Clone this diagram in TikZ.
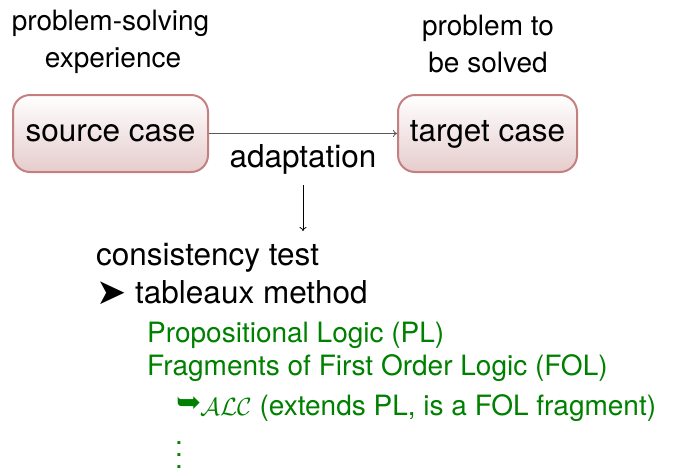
\documentclass[tikz,border=0pt]{standalone}
\usepackage{fontspec}
\setmainfont{TeX Gyre Heros}
\newfontfamily\symfont{DejaVu Sans}
\usetikzlibrary{arrows.meta}
\definecolor{boxline}{RGB}{196,128,128}
\definecolor{boxfill}{RGB}{230,204,204}
\definecolor{logicgreen}{RGB}{0,128,0}

\begin{document}
\begin{tikzpicture}[x=1pt,y=1pt,
  big/.style={font=\fontsize{31.5}{36}\selectfont, inner sep=0pt},
  small/.style={font=\fontsize{28}{32}\selectfont, inner sep=0pt},
  logic/.style={small, text=logicgreen},
  casebox/.style={draw=boxline, line width=2pt, rounded corners=17pt,
    top color=white, bottom color=boxfill, minimum height=77pt,
    inner sep=0pt, text height=22pt, text depth=7pt,
    font=\fontsize{31.5}{36}\selectfont},
  flow/.style={-{To[length=4pt,width=7pt]}, line width=0.8pt},
]
\useasboundingbox (0,0) rectangle (677,-467);

% the two cases and the adaptation step between them
\node[casebox, minimum width=195pt] (source) at (110.5,-133.5) {source case};
\node[casebox, minimum width=179pt] (target) at (487.5,-133.5) {target case};
\draw[flow, draw=black!65] (source.east) -- (target.west);
\node[big, anchor=base] (adapt) at (303,-167) {adaptation};

% captions above the cases
\node[small, anchor=base] (srcA) at (110.5,-30) {problem-solving};
\node[small, anchor=base] (srcB) at (113,-67) {experience};
\node[small, anchor=base] (tgtA) at (488,-35) {problem to};
\node[small, anchor=base] (tgtB) at (488,-72) {be solved};

% arrow down to the consistency test
\coordinate (downA) at (303,-185);
\coordinate (downB) at (303,-231);
\draw[flow] (downA) -- (downB);

\node[big, anchor=base west] (cons) at (96,-265) {consistency test};
\node[big, anchor=base west] (bullet) at (96,-304) {\fontsize{36}{40}\symfont ➤};
\node[big, anchor=base west] (tab) at (135,-303) {tableaux method};

% logics handled by the tableaux method
\node[logic, anchor=base west] (pl) at (147,-342) {Propositional Logic (PL)};
\node[logic, anchor=base west] (fol) at (147,-375) {Fragments of First Order Logic (FOL)};
\node[logic, anchor=base west] (hook) at (176,-412) {\fontsize{30}{34}\symfont ➥};
\node[logic, anchor=base west] (alc) at (200,-415)
  {$\mathcal{ALC}$ (extends PL, is a FOL fragment)};
\node[logic, anchor=north] (more) at (179,-441)
  {\vbox{\baselineskip=12pt\lineskiplimit=0pt\hbox{.}\hbox{.}\hbox{.}}};
\end{tikzpicture}
\end{document}
